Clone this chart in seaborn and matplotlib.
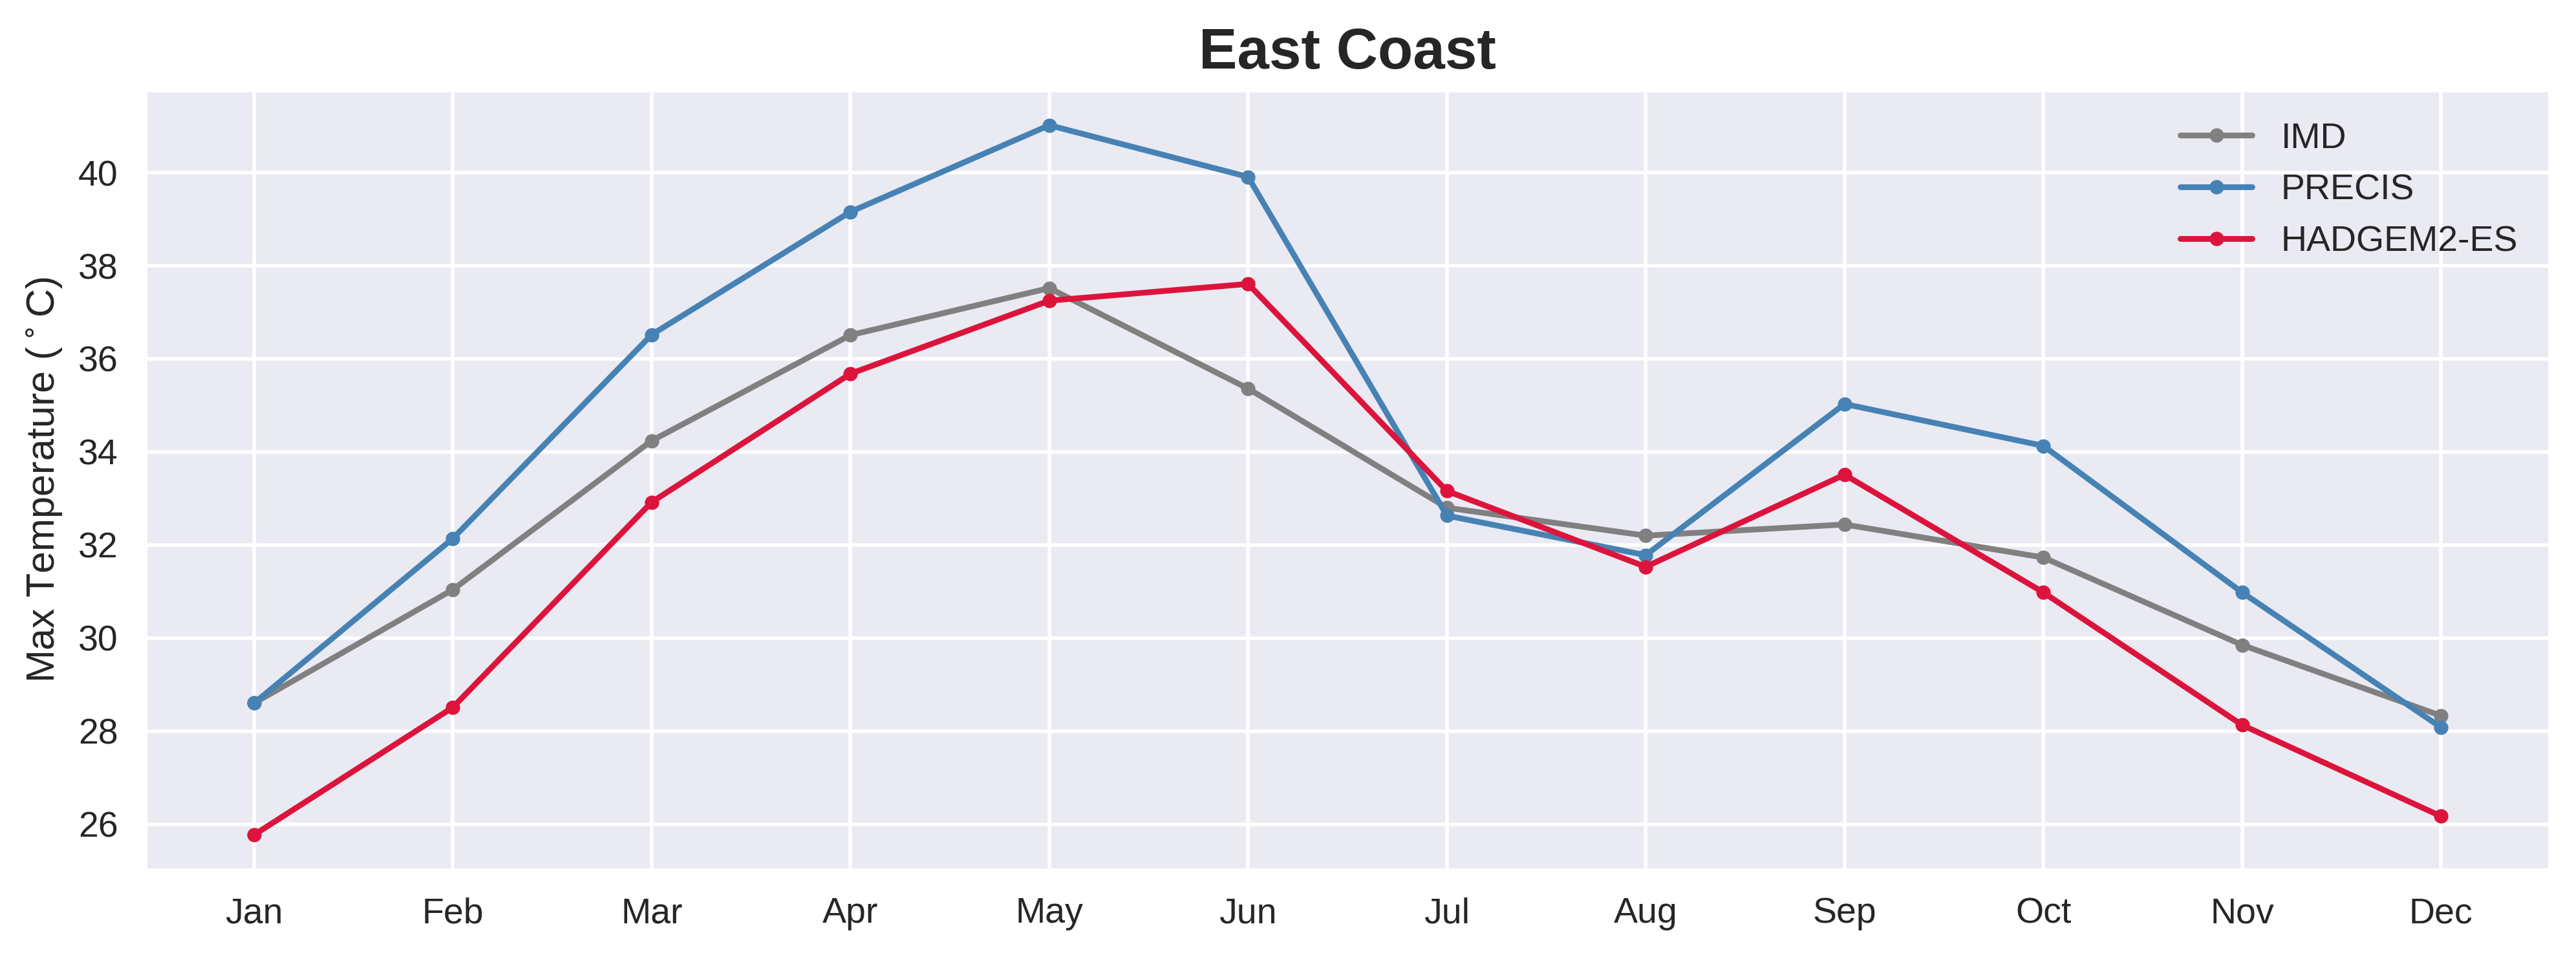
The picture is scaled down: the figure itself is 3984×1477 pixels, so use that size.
import numpy as np
import pandas as pd
import seaborn as sns
import matplotlib.pyplot as plt

months = ['Jan', 'Feb', 'Mar', 'Apr', 'May', 'Jun', 'Jul', 'Aug', 'Sep', 'Oct', 'Nov', 'Dec']
imd = [28.60, 31.04, 34.24, 36.51, 37.52, 35.36, 32.80, 32.20, 32.44, 31.73, 29.85, 28.33]
precis = [28.60, 32.14, 36.52, 39.16, 41.02, 39.91, 32.63, 31.78, 35.03, 34.13, 30.98, 28.08]
hadgem = [25.77, 28.51, 32.92, 35.68, 37.25, 37.61, 33.16, 31.53, 33.51, 30.98, 28.13, 26.17]
series = ['IMD', 'PRECIS', 'HADGEM2-ES']
colors = ['grey', 'steelblue', 'crimson']

df = pd.DataFrame({'Month': months * 3,
                   'Temp': imd + precis + hadgem,
                   'Model': np.repeat(series, len(months))})

sns.set_theme(style="darkgrid")
plt.rcParams['font.family'] = ['Liberation Sans', 'DejaVu Sans']

fig, ax = plt.subplots(figsize=(9.96, 3.6925), dpi=400)
sns.lineplot(data=df, x='Month', y='Temp', hue='Model', palette=colors,
             marker='o', markersize=4, markeredgewidth=0, linewidth=1.6,
             sort=False, ax=ax)

ax.set_title('East Coast', fontsize=16, fontweight='bold')
ax.set_xlabel('')
ax.set_ylabel('Max Temperature ($^\\circ$C)', fontsize=11, labelpad=4)
ax.tick_params(axis='both', labelsize=10, length=0, pad=7.4)
ax.set_xlim(-0.55, 11.55)
handles, labels = ax.get_legend_handles_labels()
ax.legend(handles, labels, loc='upper right', frameon=False, fontsize=10)

fig.subplots_adjust(left=0.0562, right=0.990, top=0.906, bottom=0.0887)
fig.savefig('out.png', dpi=400)
